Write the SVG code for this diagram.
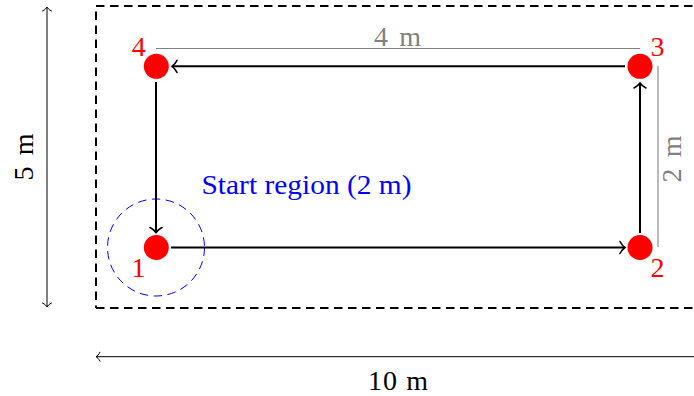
<svg xmlns="http://www.w3.org/2000/svg" width="694" height="396" viewBox="0 0 694 396">
<style>
text{font-family:"Liberation Serif","Times New Roman",serif;font-size:28px}
.red{fill:#ff0000}
.gray{fill:#808080}
.node{fill:#ff0000}
.path{stroke:#000;stroke-width:2;fill:none}
.dim{stroke:#000;stroke-width:1;fill:none}
.gline{stroke:#808080;stroke-width:1.1;fill:none}
.border{stroke:#000;stroke-width:2;fill:none;stroke-dasharray:8.5 5.5}
</style>
<defs>
<marker id="ah" markerUnits="userSpaceOnUse" markerWidth="16" markerHeight="16" viewBox="-8 -8 16 16" refX="0" refY="0" orient="auto-start-reverse" overflow="visible">
<path d="M -5,-6 C -3.5,-3 -1.5,-1 0,0 C -1.5,1 -3.5,3 -5,6" fill="none" stroke="#000" stroke-width="1.6" stroke-linecap="round"/>
</marker>
<marker id="ahs" markerUnits="userSpaceOnUse" markerWidth="12" markerHeight="12" viewBox="-6 -6 12 12" refX="0" refY="0" orient="auto-start-reverse" overflow="visible">
<path d="M -4,-4.5 C -3,-2 -1,-0.7 0,0 C -1,0.7 -3,2 -4,4.5" fill="none" stroke="#000" stroke-width="1" stroke-linecap="round"/>
</marker>
</defs>
<rect width="694" height="396" fill="#fff"/>

<g id="border">
<line class="border" x1="96" y1="6" x2="700" y2="6"/>
<line class="border" x1="96" y1="6" x2="96" y2="308" stroke-dashoffset="8.5"/>
<line class="border" x1="96" y1="308" x2="700" y2="308"/>
</g>

<g id="dimensions">
<line class="dim" x1="47" y1="7" x2="47" y2="307" marker-start="url(#ahs)" marker-end="url(#ahs)"/>
<text transform="translate(33,157) rotate(-90)" text-anchor="middle" textLength="47" lengthAdjust="spacing">5 m</text>
<line class="dim" x1="700" y1="356.7" x2="96" y2="356.7" marker-end="url(#ahs)"/>
<text x="398" y="390" text-anchor="middle" textLength="60" lengthAdjust="spacing">10 m</text>
<line class="gline" x1="156" y1="48.5" x2="640" y2="48.5"/>
<text class="gray" x="397.5" y="46" text-anchor="middle" textLength="47" lengthAdjust="spacing">4 m</text>
<line class="gline" x1="658" y1="66" x2="658" y2="247"/>
<text class="gray" transform="translate(681,159) rotate(-90)" text-anchor="middle" textLength="47" lengthAdjust="spacing">2 m</text>
</g>

<g id="start-region">
<circle cx="156" cy="247.5" r="48.5" fill="none" stroke="#0000ff" stroke-width="1" stroke-dasharray="8.5 5.5"/>
<text x="201.5" y="194" fill="#0000ff" textLength="210" lengthAdjust="spacingAndGlyphs">Start region (2 m)</text>
</g>

<g id="connectors">
<line class="path" x1="171" y1="247.5" x2="625" y2="247.5" marker-end="url(#ah)"/>
<line class="path" x1="640" y1="233" x2="640" y2="83" marker-end="url(#ah)"/>
<line class="path" x1="625" y1="66.3" x2="172" y2="66.3" marker-end="url(#ah)"/>
<line class="path" x1="156" y1="82" x2="156" y2="232.5" marker-end="url(#ah)"/>
</g>

<g id="node1">
<circle class="node" cx="156.3" cy="247.5" r="12.5"/>
<text class="red" x="138.5" y="277" text-anchor="middle">1</text>
</g>
<g id="node2">
<circle class="node" cx="640" cy="247.5" r="12.5"/>
<text class="red" x="657.5" y="276.5" text-anchor="middle">2</text>
</g>
<g id="node3">
<circle class="node" cx="640" cy="66.3" r="12.5"/>
<text class="red" x="657.5" y="56" text-anchor="middle">3</text>
</g>
<g id="node4">
<circle class="node" cx="156.3" cy="66.3" r="12.5"/>
<text class="red" x="138.7" y="56" text-anchor="middle">4</text>
</g>
</svg>
